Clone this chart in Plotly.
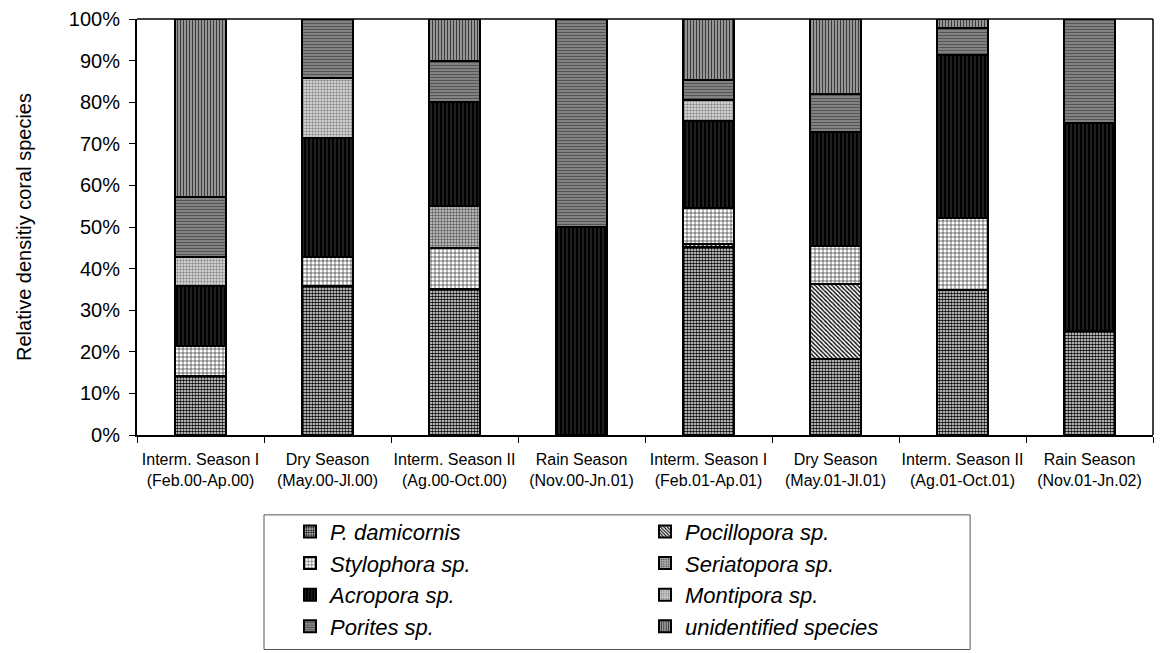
import plotly.graph_objects as go

categories = [
    "Interm. Season I<br>(Feb.00-Ap.00)",
    "Dry Season<br>(May.00-Jl.00)",
    "Interm. Season II<br>(Ag.00-Oct.00)",
    "Rain Season<br>(Nov.00-Jn.01)",
    "Interm. Season I<br>(Feb.01-Ap.01)",
    "Dry Season<br>(May.01-Jl.01)",
    "Interm. Season II<br>(Ag.01-Oct.01)",
    "Rain Season<br>(Nov.01-Jn.02)",
]

p_damicornis = [14.3, 35.7, 35.0, 0, 45.2, 18.2, 34.8, 25.0]
pocillopora = [0, 0, 0, 0, 0.7, 18.2, 0, 0]
stylophora = [7.1, 7.1, 10.0, 0, 8.6, 9.1, 17.4, 0]
seriatopora = [0, 0, 10.0, 0, 0, 0, 0, 0]
acropora = [14.3, 28.6, 25.0, 50.0, 21.1, 27.3, 39.1, 50.0]
montipora = [7.1, 14.3, 0, 0, 5.0, 0, 0, 0]
porites = [14.3, 14.3, 10.0, 50.0, 4.8, 9.1, 6.5, 25.0]
unidentified = [42.9, 0, 10.0, 0, 14.6, 18.2, 2.2, 0]

series = [
    ("P. damicornis", p_damicornis, dict(shape=".", fgcolor="#000000", bgcolor="#ffffff", size=3, solidity=0.6)),
    ("Pocillopora sp.", pocillopora, dict(shape="\\", fgcolor="#000000", bgcolor="#ffffff", size=3, solidity=0.45)),
    ("Stylophora sp.", stylophora, dict(shape="+", fgcolor="#000000", bgcolor="#ffffff", size=4, solidity=0.25)),
    ("Seriatopora sp.", seriatopora, dict(shape="+", fgcolor="#555555", bgcolor="#b4b4b4", size=3, solidity=0.35)),
    ("Acropora sp.", acropora, dict(shape="|", fgcolor="#333333", bgcolor="#000000", size=4, solidity=0.3)),
    ("Montipora sp.", montipora, dict(shape=".", fgcolor="#8a8a8a", bgcolor="#e6e6e6", size=3, solidity=0.5)),
    ("Porites sp.", porites, dict(shape="-", fgcolor="#555555", bgcolor="#8c8c8c", size=3, solidity=0.45)),
    ("unidentified species", unidentified, dict(shape="|", fgcolor="#3a3a3a", bgcolor="#a0a0a0", size=3, solidity=0.4)),
]

fig = go.Figure()
for name, vals, pat in series:
    fig.add_trace(go.Bar(
        name=name,
        x=categories,
        y=vals,
        marker=dict(
            color=pat["bgcolor"],
            line=dict(color="#000000", width=2),
            pattern=dict(fillmode="replace", **pat),
        ),
    ))

fig.update_layout(
    width=1160,
    height=653,
    barmode="stack",
    bargap=0.6,
    paper_bgcolor="white",
    plot_bgcolor="white",
    margin=dict(l=137, r=7, t=19, b=217),
    font=dict(family="Arial, Liberation Sans, sans-serif", color="#000000"),
    showlegend=True,
    legend=dict(
        orientation="h",
        x=0.1506,
        xanchor="left",
        y=-0.179,
        yanchor="top",
        entrywidth=310,
        entrywidthmode="pixels",
        font=dict(size=22, style="italic", family="Arial, Liberation Sans, sans-serif"),
        bgcolor="rgba(0,0,0,0)",
        borderwidth=0,
        traceorder="normal",
        tracegroupgap=0,
    ),
    xaxis=dict(
        showline=True,
        linecolor="#000000",
        linewidth=2,
        ticks="outside",
        ticklen=6,
        tickcolor="#000000",
        tickson="boundaries",
        ticklabelstandoff=9,
        showgrid=False,
        tickfont=dict(size=16),
        tickangle=0,
    ),
    yaxis=dict(
        range=[0, 100],
        dtick=10,
        ticksuffix="%",
        showline=True,
        linecolor="#000000",
        linewidth=2,
        ticks="outside",
        ticklen=6,
        tickcolor="#000000",
        ticklabelstandoff=5,
        showgrid=False,
        zeroline=False,
        tickfont=dict(size=20),
        title=dict(text="Relative densitiy coral species", font=dict(size=20), standoff=32),
    ),
    shapes=[
        dict(type="line", xref="paper", yref="paper", x0=0, x1=1, y0=1, y1=1,
             line=dict(color="#000000", width=1.5)),
        dict(type="line", xref="paper", yref="paper", x0=1, x1=1, y0=0, y1=1,
             line=dict(color="#000000", width=1.5)),
        dict(type="rect", xref="paper", yref="paper", x0=0.125, x1=0.820, y0=-0.192, y1=-0.5156,
             line=dict(color="#555555", width=1), fillcolor="rgba(0,0,0,0)", layer="below"),
    ],
)

fig.write_html(
    "out.html",
    config={"displayModeBar": False},
    post_script="document.body.style.margin='0px';",
)
